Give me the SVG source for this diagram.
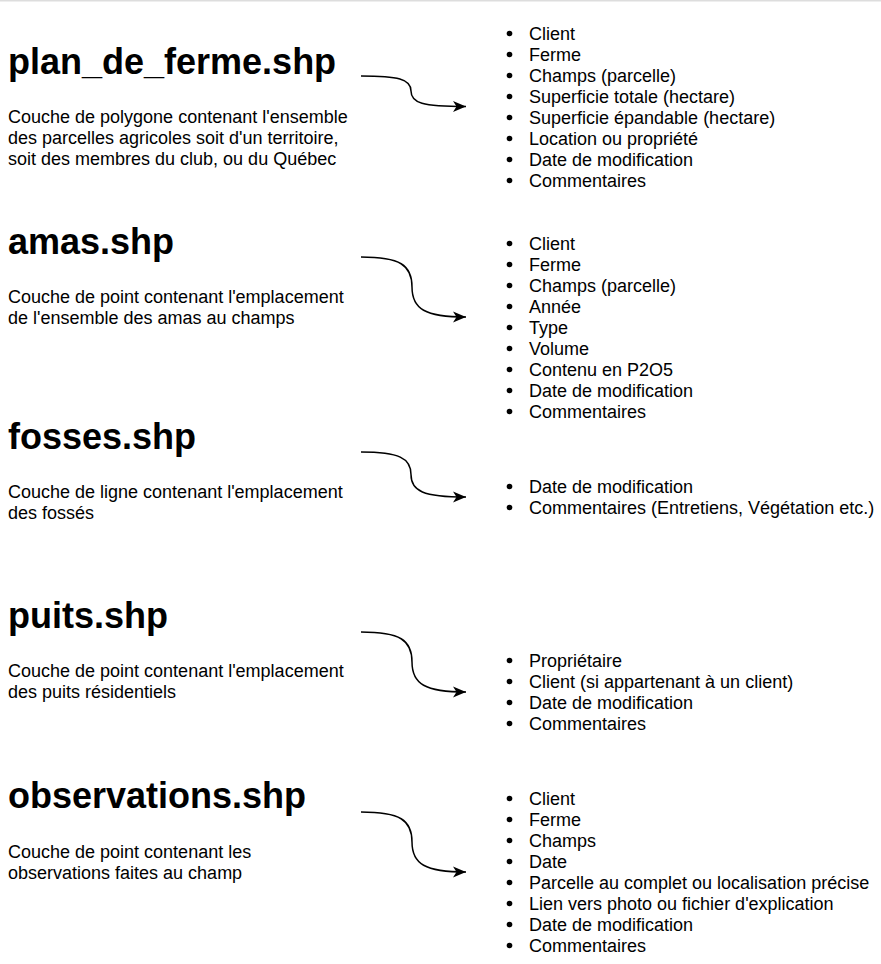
<svg xmlns="http://www.w3.org/2000/svg" width="881" height="964" viewBox="0 0 881 964">
<style>
.t{font-family:"Liberation Sans",Arial,sans-serif;font-size:36px;font-weight:bold;fill:#000}
.d{font-family:"Liberation Sans",Arial,sans-serif;font-size:18px;fill:#000}
.l{font-family:"Liberation Sans",Arial,sans-serif;font-size:18px;fill:#000}
.b{fill:#000}
.c{fill:none;stroke:#000;stroke-width:1.5}
</style>
<defs>
<marker id="ah" markerUnits="userSpaceOnUse" markerWidth="14" markerHeight="12" refX="13" refY="6" orient="auto" viewBox="0 0 14 12">
<path d="M0,0.5 L13,6 L0,11.5 L3.5,6 Z" fill="#000"/>
</marker>
</defs>
<rect x="0" y="0" width="881" height="1.5" fill="#dddddd"/>
<g id="connectors">
<path class="c" marker-end="url(#ah)" d="M361,76 C398,76 411,79 411,91 C411,103 422,106.5 466,106.5"/>
<path class="c" marker-end="url(#ah)" d="M361,257 C400,257 412,265 412,287 C412,309 425,317 466,317"/>
<path class="c" marker-end="url(#ah)" d="M361,452 C399,452 411,458 411,474.5 C411,491 423,497 466,497"/>
<path class="c" marker-end="url(#ah)" d="M361,632 C400,632 412,640 412,662 C412,684 425,692 466,692"/>
<path class="c" marker-end="url(#ah)" d="M361,812 C400,812 412,820 412,842 C412,864 425,872 466,872"/>
</g>
<g id="plan_de_ferme">
<text class="t" x="8" y="74">plan_de_ferme.shp</text>
<text class="d" x="8" y="122.5">Couche de polygone contenant l'ensemble</text>
<text class="d" x="8" y="143.5">des parcelles agricoles soit d'un territoire,</text>
<text class="d" x="8" y="164.5">soit des membres du club, ou du Québec</text>
</g>
<g id="plan_de_ferme_attributs">
<circle class="b" cx="509.5" cy="33.5" r="2.8"/><text class="l" x="529" y="39.5">Client</text>
<circle class="b" cx="509.5" cy="54.5" r="2.8"/><text class="l" x="529" y="60.5">Ferme</text>
<circle class="b" cx="509.5" cy="75.5" r="2.8"/><text class="l" x="529" y="81.5">Champs (parcelle)</text>
<circle class="b" cx="509.5" cy="96.5" r="2.8"/><text class="l" x="529" y="102.5">Superficie totale (hectare)</text>
<circle class="b" cx="509.5" cy="117.5" r="2.8"/><text class="l" x="529" y="123.5">Superficie épandable (hectare)</text>
<circle class="b" cx="509.5" cy="138.5" r="2.8"/><text class="l" x="529" y="144.5">Location ou propriété</text>
<circle class="b" cx="509.5" cy="159.5" r="2.8"/><text class="l" x="529" y="165.5">Date de modification</text>
<circle class="b" cx="509.5" cy="180.5" r="2.8"/><text class="l" x="529" y="186.5">Commentaires</text>
</g>
<g id="amas">
<text class="t" x="8" y="254">amas.shp</text>
<text class="d" x="8" y="302.5">Couche de point contenant l'emplacement</text>
<text class="d" x="8" y="323.5">de l'ensemble des amas au champs</text>
</g>
<g id="amas_attributs">
<circle class="b" cx="509.5" cy="243.5" r="2.8"/><text class="l" x="529" y="249.5">Client</text>
<circle class="b" cx="509.5" cy="264.5" r="2.8"/><text class="l" x="529" y="270.5">Ferme</text>
<circle class="b" cx="509.5" cy="285.5" r="2.8"/><text class="l" x="529" y="291.5">Champs (parcelle)</text>
<circle class="b" cx="509.5" cy="306.5" r="2.8"/><text class="l" x="529" y="312.5">Année</text>
<circle class="b" cx="509.5" cy="327.5" r="2.8"/><text class="l" x="529" y="333.5">Type</text>
<circle class="b" cx="509.5" cy="348.5" r="2.8"/><text class="l" x="529" y="354.5">Volume</text>
<circle class="b" cx="509.5" cy="369.5" r="2.8"/><text class="l" x="529" y="375.5">Contenu en P2O5</text>
<circle class="b" cx="509.5" cy="390.5" r="2.8"/><text class="l" x="529" y="396.5">Date de modification</text>
<circle class="b" cx="509.5" cy="411.5" r="2.8"/><text class="l" x="529" y="417.5">Commentaires</text>
</g>
<g id="fosses">
<text class="t" x="8" y="449">fosses.shp</text>
<text class="d" x="8" y="497.5">Couche de ligne contenant l'emplacement</text>
<text class="d" x="8" y="518.5">des fossés</text>
</g>
<g id="fosses_attributs">
<circle class="b" cx="509.5" cy="486.5" r="2.8"/><text class="l" x="529" y="492.5">Date de modification</text>
<circle class="b" cx="509.5" cy="507.5" r="2.8"/><text class="l" x="529" y="513.5">Commentaires (Entretiens, Végétation etc.)</text>
</g>
<g id="puits">
<text class="t" x="8" y="628">puits.shp</text>
<text class="d" x="8" y="676.5">Couche de point contenant l'emplacement</text>
<text class="d" x="8" y="697.5">des puits résidentiels</text>
</g>
<g id="puits_attributs">
<circle class="b" cx="509.5" cy="660.5" r="2.8"/><text class="l" x="529" y="666.5">Propriétaire</text>
<circle class="b" cx="509.5" cy="681.5" r="2.8"/><text class="l" x="529" y="687.5">Client (si appartenant à un client)</text>
<circle class="b" cx="509.5" cy="702.5" r="2.8"/><text class="l" x="529" y="708.5">Date de modification</text>
<circle class="b" cx="509.5" cy="723.5" r="2.8"/><text class="l" x="529" y="729.5">Commentaires</text>
</g>
<g id="observations">
<text class="t" x="8" y="808">observations.shp</text>
<text class="d" x="8" y="857.5">Couche de point contenant les</text>
<text class="d" x="8" y="878.5">observations faites au champ</text>
</g>
<g id="observations_attributs">
<circle class="b" cx="509.5" cy="798.5" r="2.8"/><text class="l" x="529" y="804.5">Client</text>
<circle class="b" cx="509.5" cy="819.5" r="2.8"/><text class="l" x="529" y="825.5">Ferme</text>
<circle class="b" cx="509.5" cy="840.5" r="2.8"/><text class="l" x="529" y="846.5">Champs</text>
<circle class="b" cx="509.5" cy="861.5" r="2.8"/><text class="l" x="529" y="867.5">Date</text>
<circle class="b" cx="509.5" cy="882.5" r="2.8"/><text class="l" x="529" y="888.5">Parcelle au complet ou localisation précise</text>
<circle class="b" cx="509.5" cy="903.5" r="2.8"/><text class="l" x="529" y="909.5">Lien vers photo ou fichier d'explication</text>
<circle class="b" cx="509.5" cy="924.5" r="2.8"/><text class="l" x="529" y="930.5">Date de modification</text>
<circle class="b" cx="509.5" cy="945.5" r="2.8"/><text class="l" x="529" y="951.5">Commentaires</text>
</g>
</svg>
